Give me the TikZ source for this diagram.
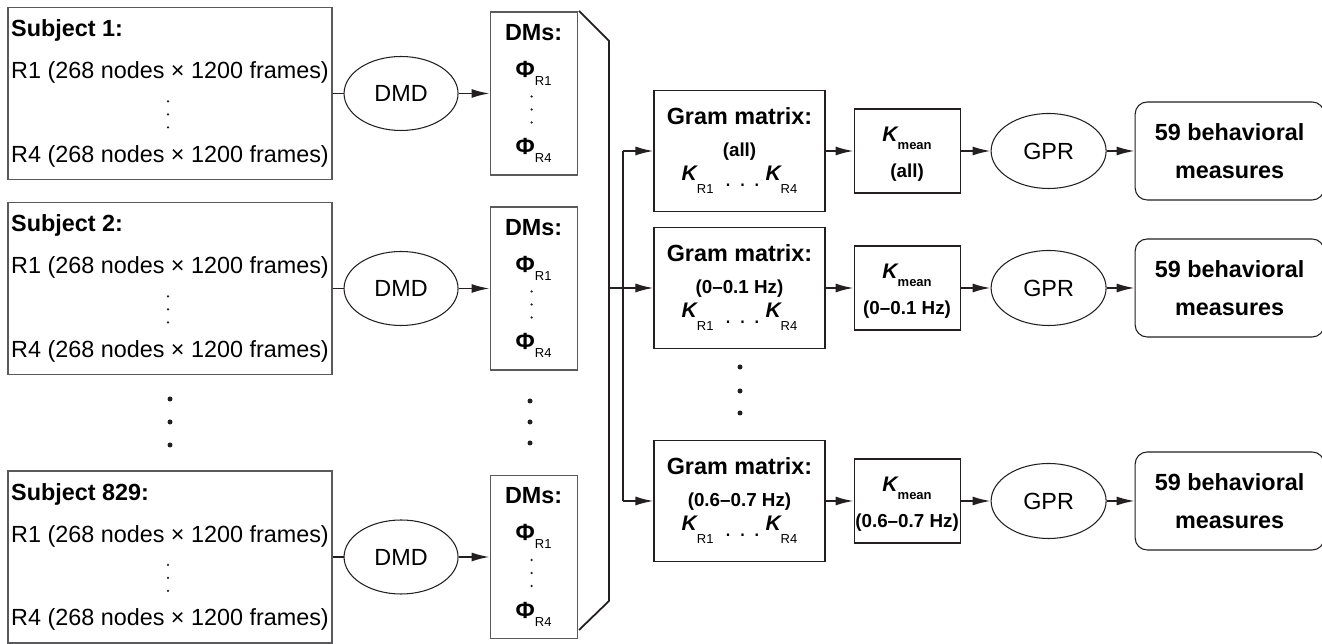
\documentclass[tikz,border=0pt]{standalone}
\usepackage{fontspec}
\setmainfont{Liberation Sans}
\usepackage{tikz}
\usetikzlibrary{shapes.geometric,positioning,arrows.meta,calc}
\usepackage{xcolor}
\definecolor{ink}{HTML}{231F20}
\definecolor{edge}{HTML}{5A5A5C}
\newcommand{\basefont}{\fontsize{13.3}{16}\selectfont}
\newcommand{\bandfont}{\fontsize{10.7}{12}\selectfont\bfseries}
\newcommand{\lowsub}[2][4.5pt]{\raisebox{-#1}{\fontsize{7.4}{8}\selectfont\mdseries\upshape #2}}
\newcommand{\phisub}[1]{\textbf{Φ}\lowsub{#1}}
\newcommand{\kk}[2][7.5pt]{{\fontsize{12}{13}\selectfont\bfseries\itshape K}\lowsub[#1]{#2}}
\newcommand{\kdots}{\hspace{6.5pt}\raisebox{-3pt}{.\hspace{4.5pt}.\hspace{4.5pt}.}\hspace{3pt}}

\begin{document}
\begin{tikzpicture}[
  subj/.style={draw=edge, line width=0.6pt, minimum width=6.48cm, minimum height=3.44cm, inner sep=0pt, align=left, font=\basefont},
  proc/.style={draw=ink, line width=0.6pt, ellipse, minimum width=2.28cm, minimum height=1.48cm, inner sep=0pt, font=\basefont},
  dms/.style={draw=edge, line width=0.6pt, minimum width=1.74cm, minimum height=3.26cm, inner sep=0pt, align=center, font=\basefont},
  gram/.style={draw=ink, line width=0.6pt, minimum width=3.42cm, minimum height=2.42cm, inner sep=0pt, align=center, font=\basefont},
  kmean/.style={draw=ink, line width=0.6pt, minimum width=2.12cm, minimum height=1.68cm, inner sep=0pt, align=center, font=\basefont},
  meas/.style={draw=ink, line width=0.6pt, rounded corners=0.24cm, minimum width=3.78cm, minimum height=1.96cm, inner sep=0pt, align=center, font=\basefont\bfseries},
  link/.style={draw=ink, line width=1pt},
  arr/.style={link, -{Latex[length=3.6mm,width=1.8mm]}}
]
  \useasboundingbox (0,0) rectangle (26.44,12.88);

  % subjects
  \node[subj] (s1) at (3.40,11.01) {\textbf{Subject 1:}\\[8pt]
    R1 (268 nodes × 1200 frames)\\[31.4pt]
    R4 (268 nodes × 1200 frames)};
  \node[subj] (s2) at (3.40,7.11) {\textbf{Subject 2:}\\[8pt]
    R1 (268 nodes × 1200 frames)\\[31.4pt]
    R4 (268 nodes × 1200 frames)};
  \node[subj] (s3) at (3.40,1.74) {\textbf{Subject 829:}\\[8pt]
    R1 (268 nodes × 1200 frames)\\[31.4pt]
    R4 (268 nodes × 1200 frames)};

  \node[proc, right=0.22cm of s1] (d1) {DMD};
  \node[proc, right=0.22cm of s2] (d2) {DMD};
  \node[proc, right=0.22cm of s3] (d3) {DMD};

  \node[dms, right=0.62cm of d1] (m1) {\textbf{DMs:}\\[5pt]\phisub{R1}\\[28.2pt]\phisub{R4}};
  \node[dms, right=0.62cm of d2] (m2) {\textbf{DMs:}\\[5pt]\phisub{R1}\\[28.2pt]\phisub{R4}};
  \node[dms, right=0.62cm of d3] (m3) {\textbf{DMs:}\\[5pt]\phisub{R1}\\[28.2pt]\phisub{R4}};

  % small dots inside the boxes
  \fill[ink] ($(s1)+(-0.04,-0.16)$) circle (0.025) ($(s1)+(-0.04,-0.42)$) circle (0.025) ($(s1)+(-0.04,-0.68)$) circle (0.025);
  \fill[ink] ($(s2)+(-0.04,-0.16)$) circle (0.025) ($(s2)+(-0.04,-0.42)$) circle (0.025) ($(s2)+(-0.04,-0.68)$) circle (0.025);
  \fill[ink] ($(s3)+(-0.04,-0.16)$) circle (0.025) ($(s3)+(-0.04,-0.42)$) circle (0.025) ($(s3)+(-0.04,-0.68)$) circle (0.025);
  \fill[ink] ($(m1)+(-0.04,-0.06)$) circle (0.025) ($(m1)+(-0.04,-0.32)$) circle (0.025) ($(m1)+(-0.04,-0.58)$) circle (0.025);
  \fill[ink] ($(m2)+(-0.04,-0.06)$) circle (0.025) ($(m2)+(-0.04,-0.32)$) circle (0.025) ($(m2)+(-0.04,-0.58)$) circle (0.025);
  \fill[ink] ($(m3)+(-0.04,-0.06)$) circle (0.025) ($(m3)+(-0.04,-0.32)$) circle (0.025) ($(m3)+(-0.04,-0.58)$) circle (0.025);

  % dots between the subjects
  \fill[ink] (3.40,4.90) circle (0.05) (3.40,4.44) circle (0.05) (3.40,3.98) circle (0.05);
  \fill[ink] (10.60,4.86) circle (0.05) (10.60,4.44) circle (0.05) (10.60,4.02) circle (0.05);

  % gram matrices per band
  \node[gram] (g1) at (14.79,9.86) {\textbf{Gram matrix:}\\[2.2pt]{\bandfont (all)}\\[-2.4pt]
    \kk{R1}\kdots\kk{R4}};
  \node[gram] (g2) at (14.79,7.12) {\textbf{Gram matrix:}\\[2.2pt]{\bandfont (0–0.1 Hz)}\\[-2.4pt]
    \kk{R1}\kdots\kk{R4}};
  \node[gram] (g3) at (14.79,2.86) {\textbf{Gram matrix:}\\[2.2pt]{\bandfont (0.6–0.7 Hz)}\\[-2.4pt]
    \kk{R1}\kdots\kk{R4}};
  \fill[ink] (14.80,5.54) circle (0.05) (14.80,5.06) circle (0.05) (14.80,4.62) circle (0.05);

  \node[kmean, right=0.56cm of g1] (k1) {\rule{0pt}{12.3pt}\kk[4.5pt]{\bfseries mean}\\[4.5pt]{\bandfont (all)}};
  \node[kmean, right=0.56cm of g2] (k2) {\rule{0pt}{12.3pt}\kk[4.5pt]{\bfseries mean}\\[4.5pt]{\bandfont (0–0.1 Hz)}};
  \node[kmean, right=0.56cm of g3] (k3) {\rule{0pt}{12.3pt}\kk[4.5pt]{\bfseries mean}\\[4.5pt]{\bandfont (0.6–0.7 Hz)}};

  \node[proc, minimum width=2.3cm, minimum height=1.5cm, right=0.6cm of k1] (r1) {GPR};
  \node[proc, minimum width=2.3cm, minimum height=1.5cm, right=0.6cm of k2] (r2) {GPR};
  \node[proc, minimum width=2.3cm, minimum height=1.5cm, right=0.6cm of k3] (r3) {GPR};

  \node[meas, right=0.56cm of r1] (b1) {59 behavioral\\[5.5pt]measures};
  \node[meas, right=0.56cm of r2] (b2) {59 behavioral\\[5.5pt]measures};
  \node[meas, right=0.56cm of r3] (b3) {59 behavioral\\[5.5pt]measures};

  % bracket and split
  \draw[link, line join=miter] (11.58,12.66) -- (12.18,12.06) -- (12.18,0.86) -- (11.58,0.28);
  \coordinate (hub) at (12.18,7.12);
  \coordinate (split) at (12.46,7.12);

  \draw[link] (s1) -- (d1);
  \draw[link] (s2) -- (d2);
  \draw[link] (s3) -- (d3);
  \draw[arr] (d1) -- (m1);
  \draw[arr] (d2) -- (m2);
  \draw[arr] (d3) -- (m3);

  \draw[arr] (hub) -- (g2.west);
  \draw[link] (split |- g1.west) -- (split |- g3.west);
  \draw[arr] (split |- g1.west) -- (g1.west);
  \draw[arr] (split |- g3.west) -- (g3.west);

  \draw[arr] (g1) -- (k1);
  \draw[arr] (g2) -- (k2);
  \draw[arr] (g3) -- (k3);
  \draw[arr] (k1) -- (r1);
  \draw[arr] (k2) -- (r2);
  \draw[arr] (k3) -- (r3);
  \draw[arr] (r1) -- (b1);
  \draw[arr] (r2) -- (b2);
  \draw[arr] (r3) -- (b3);
\end{tikzpicture}
\end{document}
